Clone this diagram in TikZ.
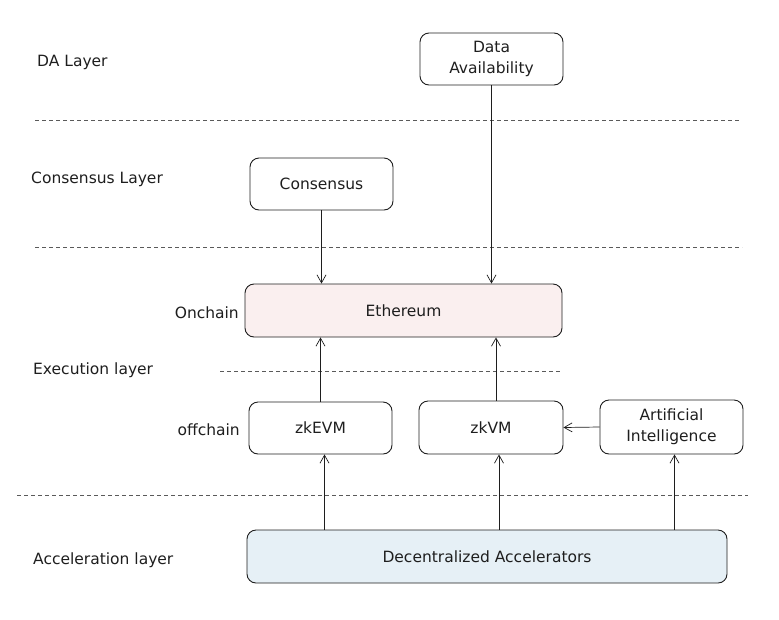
\documentclass[tikz,border=0pt]{standalone}
\usepackage{fontspec}
\setmainfont{DejaVu Sans}
\usetikzlibrary{arrows.meta,positioning,calc}
\definecolor{ink}{HTML}{1E1E1E}
\definecolor{ethfill}{HTML}{FAEFEF}
\definecolor{accfill}{HTML}{E6F0F6}
\definecolor{dashc}{HTML}{5A5A5A}
\tikzset{
  box/.style={draw=ink, line width=0.9pt, rounded corners=9pt, align=center, inner sep=0pt, font=\fontsize{15.5}{21}\selectfont, text=ink},
  lbl/.style={font=\fontsize{15.5}{21}\selectfont, text=ink, inner sep=0pt},
  arr/.style={draw=ink, line width=0.7pt, -{Straight Barb[length=8pt,width=9pt,line width=0.7pt]}},
  sep/.style={draw=dashc, line width=0.7pt, dash pattern=on 4pt off 3pt},
}
\begin{document}
\begin{tikzpicture}[x=1pt,y=-1pt]
\useasboundingbox (0,0) rectangle (779,619);
% separators
\draw[sep] (35,120) -- (740,120);
\draw[sep] (35,247) -- (742,247);
\draw[sep] (220,371) -- (562,371);
\draw[sep] (17,495) -- (748,495);
% boxes
\node[box, minimum width=143pt, minimum height=52pt] (da) at (491.5,59) {Data\\Availability};
\node[box, minimum width=143pt, minimum height=52pt] (cons) at (321.5,184) {Consensus};
\node[box, fill=ethfill, minimum width=317pt, minimum height=53pt] (eth) at (403.5,310.5) {Ethereum};
\node[box, minimum width=143pt, minimum height=52pt] (zkevm) at (320.5,428) {zkEVM};
\node[box, minimum width=144pt, minimum height=53pt] (zkvm) at (491,427.5) {zkVM};
\node[box, minimum width=143pt, minimum height=54pt] (ai) at (671.5,427) {Artificial\\Intelligence};
\node[box, fill=accfill, minimum width=480pt, minimum height=53pt] (acc) at (487,556.5) {Decentralized Accelerators};
% labels
\node[lbl, anchor=west] (lda) at (37,62) {DA Layer};
\node[lbl, anchor=west] (lcons) at (31,179) {Consensus Layer};
\node[lbl, anchor=west] (lexe) at (33,370) {Execution layer};
\node[lbl, anchor=west] (lacc) at (33,560) {Acceleration layer};
\node[lbl, anchor=east] (lon) at (239,313) {Onchain};
\node[lbl, anchor=east] (loff) at (240,430) {offchain};
% arrows
\draw[arr] (cons.south) -- (cons.south |- eth.north);
\draw[arr] (da.south) -- (da.south |- eth.north);
\draw[arr] (zkevm.north) -- (zkevm.north |- eth.south);
\draw[arr] ($(zkvm.north)+(5,0)$) -- ($(zkvm.north |- eth.south)+(5,0)$);
\draw[arr] (ai.west) -- (zkvm.east);
\draw[arr] ($(acc.north -| zkevm.south)+(4,0)$) -- ($(zkevm.south)+(4,0)$);
\draw[arr] ($(acc.north -| zkvm.south)+(8,0)$) -- ($(zkvm.south)+(8,0)$);
\draw[arr] ($(acc.north -| ai.south)+(3,0)$) -- ($(ai.south)+(3,0)$);
\end{tikzpicture}
\end{document}
